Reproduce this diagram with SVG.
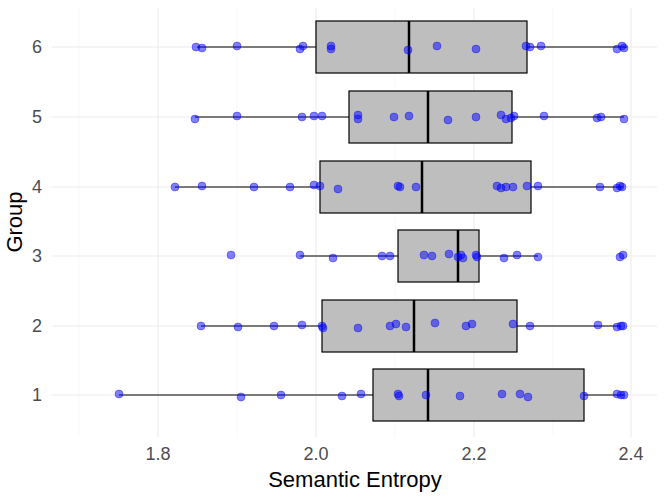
<svg xmlns="http://www.w3.org/2000/svg" width="664" height="498" viewBox="0 0 664 498">
<style>
.g{stroke:#ebebeb;stroke-width:1.1}.gm{stroke:#f3f3f3;stroke-width:0.6}
.box{fill:#bebebe;stroke:#000;stroke-width:1.2}.w{stroke:#000;stroke-width:1.2}.med{stroke:#000;stroke-width:2.5}
.t{font-family:"Liberation Sans",sans-serif;font-size:18px;fill:#4d4d4d}
.ti{font-family:"Liberation Sans",sans-serif;font-size:22px;fill:#000}
circle{fill:#0000ff;fill-opacity:0.5;stroke:#0000ff;stroke-opacity:0.6;stroke-width:0.6}
</style>
<rect width="664" height="498" fill="#fff"/>
<g id="grid">
<line class="gm" x1="79" y1="8" x2="79" y2="437"/><line class="gm" x1="237" y1="8" x2="237" y2="437"/><line class="gm" x1="395" y1="8" x2="395" y2="437"/><line class="gm" x1="553" y1="8" x2="553" y2="437"/>
<line class="g" x1="158" y1="8" x2="158" y2="437"/><line class="g" x1="316" y1="8" x2="316" y2="437"/><line class="g" x1="474" y1="8" x2="474" y2="437"/><line class="g" x1="631" y1="8" x2="631" y2="437"/>
<line class="g" x1="52" y1="395" x2="657" y2="395"/><line class="g" x1="52" y1="326" x2="657" y2="326"/><line class="g" x1="52" y1="256" x2="657" y2="256"/><line class="g" x1="52" y1="187" x2="657" y2="187"/><line class="g" x1="52" y1="117" x2="657" y2="117"/><line class="g" x1="52" y1="47" x2="657" y2="47"/>
</g>
<g id="connectors">
<line class="w" x1="197" y1="47" x2="627" y2="47"/>
<line class="w" x1="195" y1="117" x2="624" y2="117"/>
<line class="w" x1="175" y1="187" x2="623" y2="187"/>
<line class="w" x1="300" y1="256" x2="538" y2="256"/>
<line class="w" x1="201" y1="326" x2="620" y2="326"/>
<line class="w" x1="119" y1="395" x2="624" y2="395"/>
</g>
<g id="box6"><rect class="box" x="316" y="21" width="211" height="52"/><line class="med" x1="409" y1="21" x2="409" y2="73"/></g>
<g id="box5"><rect class="box" x="349" y="91" width="163" height="52"/><line class="med" x1="428" y1="91" x2="428" y2="143"/></g>
<g id="box4"><rect class="box" x="320" y="161" width="211" height="52"/><line class="med" x1="422" y1="161" x2="422" y2="213"/></g>
<g id="box3"><rect class="box" x="398" y="230" width="81" height="52"/><line class="med" x1="458" y1="230" x2="458" y2="282"/></g>
<g id="box2"><rect class="box" x="322" y="300" width="195" height="52"/><line class="med" x1="414" y1="300" x2="414" y2="352"/></g>
<g id="box1"><rect class="box" x="373" y="369" width="211" height="52"/><line class="med" x1="428" y1="369" x2="428" y2="421"/></g>
<g id="points" >
<g transform="translate(0,47)"><circle cx="196" cy="0" r="4"/><circle cx="202" cy="1" r="4"/><circle cx="237" cy="-1" r="4"/><circle cx="300" cy="2" r="4"/><circle cx="303" cy="-1" r="4"/><circle cx="331" cy="2" r="4"/><circle cx="331" cy="-1" r="4"/><circle cx="408" cy="3" r="4"/><circle cx="437" cy="-1" r="4"/><circle cx="476" cy="2" r="4"/><circle cx="526" cy="-1" r="4"/><circle cx="530" cy="0" r="4"/><circle cx="541" cy="-1" r="4"/><circle cx="617" cy="2" r="4"/><circle cx="622" cy="-1" r="4"/><circle cx="624" cy="1" r="4"/></g>
<g transform="translate(0,117)"><circle cx="195" cy="2" r="4"/><circle cx="237" cy="-1" r="4"/><circle cx="302" cy="0" r="4"/><circle cx="314" cy="-1" r="4"/><circle cx="322" cy="-1" r="4"/><circle cx="358" cy="-2" r="4"/><circle cx="358" cy="2" r="4"/><circle cx="394" cy="0" r="4"/><circle cx="409" cy="-1" r="4"/><circle cx="448" cy="3" r="4"/><circle cx="476" cy="0" r="4"/><circle cx="501" cy="-2" r="4"/><circle cx="506" cy="2" r="4"/><circle cx="511" cy="1" r="4"/><circle cx="514" cy="-1" r="4"/><circle cx="544" cy="-1" r="4"/><circle cx="597" cy="1" r="4"/><circle cx="601" cy="0" r="4"/><circle cx="624" cy="2" r="4"/></g>
<g transform="translate(0,187)"><circle cx="175" cy="0" r="4"/><circle cx="202" cy="-1" r="4"/><circle cx="254" cy="0" r="4"/><circle cx="290" cy="0" r="4"/><circle cx="314" cy="-2" r="4"/><circle cx="320" cy="-1" r="4"/><circle cx="338" cy="2" r="4"/><circle cx="398" cy="-1" r="4"/><circle cx="400" cy="0" r="4"/><circle cx="416" cy="0" r="4"/><circle cx="497" cy="-1" r="4"/><circle cx="501" cy="1" r="4"/><circle cx="506" cy="0" r="4"/><circle cx="513" cy="0" r="4"/><circle cx="527" cy="-1" r="4"/><circle cx="538" cy="-1" r="4"/><circle cx="600" cy="0" r="4"/><circle cx="617" cy="1" r="4"/><circle cx="620" cy="-1" r="4"/><circle cx="622" cy="0" r="4"/></g>
<g transform="translate(0,256)"><circle cx="231" cy="-1" r="4"/><circle cx="300" cy="-1" r="4"/><circle cx="333" cy="2" r="4"/><circle cx="382" cy="0" r="4"/><circle cx="390" cy="0" r="4"/><circle cx="424" cy="-1" r="4"/><circle cx="432" cy="0" r="4"/><circle cx="449" cy="-2" r="4"/><circle cx="458" cy="1" r="4"/><circle cx="461" cy="-1" r="4"/><circle cx="463" cy="2" r="4"/><circle cx="476" cy="-1" r="4"/><circle cx="477" cy="1" r="4"/><circle cx="504" cy="2" r="4"/><circle cx="517" cy="-1" r="4"/><circle cx="538" cy="1" r="4"/><circle cx="620" cy="1" r="4"/><circle cx="623" cy="-1" r="4"/></g>
<g transform="translate(0,326)"><circle cx="201" cy="0" r="4"/><circle cx="238" cy="1" r="4"/><circle cx="274" cy="0" r="4"/><circle cx="302" cy="-1" r="4"/><circle cx="322" cy="0" r="4"/><circle cx="323" cy="2" r="4"/><circle cx="358" cy="2" r="4"/><circle cx="390" cy="0" r="4"/><circle cx="396" cy="-2" r="4"/><circle cx="406" cy="1" r="4"/><circle cx="435" cy="-3" r="4"/><circle cx="466" cy="0" r="4"/><circle cx="472" cy="-2" r="4"/><circle cx="513" cy="-2" r="4"/><circle cx="530" cy="0" r="4"/><circle cx="598" cy="-1" r="4"/><circle cx="617" cy="1" r="4"/><circle cx="621" cy="0" r="4"/><circle cx="623" cy="0" r="4"/></g>
<g transform="translate(0,395)"><circle cx="119" cy="-1" r="4"/><circle cx="241" cy="2" r="4"/><circle cx="281" cy="0" r="4"/><circle cx="342" cy="1" r="4"/><circle cx="361" cy="-1" r="4"/><circle cx="398" cy="-1" r="4"/><circle cx="399" cy="1" r="4"/><circle cx="426" cy="0" r="4"/><circle cx="460" cy="1" r="4"/><circle cx="502" cy="-1" r="4"/><circle cx="520" cy="-1" r="4"/><circle cx="528" cy="2" r="4"/><circle cx="584" cy="1" r="4"/><circle cx="617" cy="-1" r="4"/><circle cx="621" cy="0" r="4"/><circle cx="624" cy="0" r="4"/></g>
</g>
<g id="axes">
<text class="t" x="42" y="401" text-anchor="end">1</text><text class="t" x="42" y="332" text-anchor="end">2</text><text class="t" x="42" y="262" text-anchor="end">3</text><text class="t" x="42" y="193" text-anchor="end">4</text><text class="t" x="42" y="123" text-anchor="end">5</text><text class="t" x="42" y="53" text-anchor="end">6</text>
<text class="t" x="158" y="460" text-anchor="middle">1.8</text><text class="t" x="316" y="460" text-anchor="middle">2.0</text><text class="t" x="474" y="460" text-anchor="middle">2.2</text><text class="t" x="631" y="460" text-anchor="middle">2.4</text>
<text class="ti" x="355" y="487" text-anchor="middle">Semantic Entropy</text>
<text class="ti" transform="translate(22,222) rotate(-90)" text-anchor="middle">Group</text>
</g>
</svg>
